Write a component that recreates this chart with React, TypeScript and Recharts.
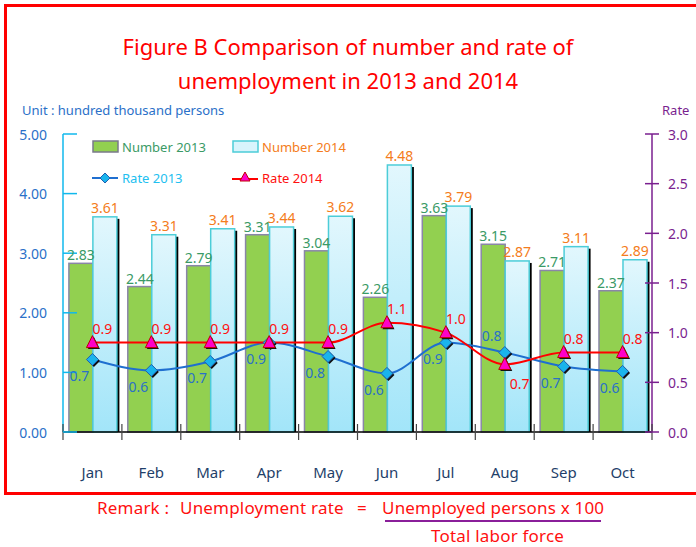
import React from 'react'
import {
  ComposedChart,
  Bar,
  Line,
  XAxis,
  YAxis,
  LabelList,
} from 'recharts'

const MONTHS = ['Jan', 'Feb', 'Mar', 'Apr', 'May', 'Jun', 'Jul', 'Aug', 'Sep', 'Oct']
const NUMBER_2013 = [2.83, 2.44, 2.79, 3.31, 3.04, 2.26, 3.63, 3.15, 2.71, 2.37]
const NUMBER_2014 = [3.61, 3.31, 3.41, 3.44, 3.62, 4.48, 3.79, 2.87, 3.11, 2.89]
const RATE_2013 = [0.73, 0.62, 0.71, 0.9, 0.76, 0.59, 0.9, 0.8, 0.66, 0.61]
const RATE_2014 = [0.9, 0.9, 0.9, 0.9, 0.9, 1.1, 1.0, 0.68, 0.8, 0.8]
const LEFT_TICKS = [0, 1, 2, 3, 4, 5]
const RIGHT_TICKS = [0, 0.5, 1, 1.5, 2, 2.5, 3]

const FONT = '"Noto Sans", "Open Sans", sans-serif'
const GREEN_TEXT = '#3a9a66'
const ORANGE = '#f47c20'
const BLUE_LINE = '#1f6fd0'
const BLUE_TEXT = '#2a70c8'
const PURPLE = '#7a1f8f'
const BAND = 589 / 10

const data = MONTHS.map((m, i) => ({
  month: m,
  n2013: NUMBER_2013[i],
  n2014: NUMBER_2014[i],
  r2013: RATE_2013[i],
  r2014: RATE_2014[i],
}))

function Bar2013(props: any) {
  const { x, y, width, height } = props
  return <rect x={x} y={y} width={width} height={height} fill="#92d050" stroke="#8a86a8" strokeWidth={1.5} />
}

function Bar2014(props: any) {
  const { x, y, width, height } = props
  return (
    <g>
      <rect x={x + width} y={y + 2} width={2.5} height={height - 2} fill="#000" />
      <rect x={x} y={y} width={width} height={height} fill="url(#g2014)" stroke="#4ccdd8" strokeWidth={1.5} />
    </g>
  )
}

function Diamond(props: any) {
  const { cx, cy, index } = props
  const d = (ox: number, oy: number) =>
    `M${cx + ox},${cy - 6 + oy} L${cx + 6 + ox},${cy + oy} L${cx + ox},${cy + 6 + oy} L${cx - 6 + ox},${cy + oy} Z`
  return (
    <g key={`d${index}`}>
      <path d={d(1.5, 1.5)} fill="#111" />
      <path d={d(0, 0)} fill="#1ab4ec" stroke="#1f5fb0" strokeWidth={1} />
    </g>
  )
}

function Triangle(props: any) {
  const { cx, cy, index } = props
  const t = (ox: number, oy: number) =>
    `M${cx + ox},${cy - 7 + oy} L${cx + 6 + ox},${cy + 5 + oy} L${cx - 6 + ox},${cy + 5 + oy} Z`
  return (
    <g key={`t${index}`}>
      <path d={t(1.5, 1.5)} fill="#111" />
      <path d={t(0, 0)} fill="#ff00c8" stroke="#c00000" strokeWidth={1} />
    </g>
  )
}

function Rate2013Label(props: any) {
  const { x, y, value, index } = props
  const above = index === 7
  return (
    <text x={x - 13} y={above ? y - 17 : y + 16} fill={BLUE_TEXT} fontSize={14} fontFamily={FONT}
      textAnchor="middle" dominantBaseline="central">
      {Number(value).toFixed(1)}
    </text>
  )
}

function Rate2014Label(props: any) {
  const { x, y, value, index } = props
  const below = index === 7
  return (
    <text x={x + (below ? 15 : 10)} y={below ? y + 19 : y - 14} fill="#ff1010" fontSize={14} fontFamily={FONT}
      textAnchor="middle" dominantBaseline="central">
      {Number(value).toFixed(1)}
    </text>
  )
}

function MonthTick(props: any) {
  const { x, y, payload, index } = props
  return (
    <g>
      <line x1={x - BAND / 2} x2={x - BAND / 2} y1={y - 8} y2={y + 8} stroke="#444" strokeWidth={1.2} />
      {index === MONTHS.length - 1 && (
        <line x1={x + BAND / 2} x2={x + BAND / 2} y1={y - 8} y2={y + 8} stroke="#444" strokeWidth={1.2} />
      )}
      <text x={x} y={y + 40} fill="#1f3f6a" fontSize={15} fontFamily={FONT} textAnchor="middle" dominantBaseline="central">
        {payload.value}
      </text>
    </g>
  )
}

function LeftTick(props: any) {
  const { x, y, payload } = props
  return (
    <g>
      <line x1={x + 9} x2={x + 23} y1={y} y2={y} stroke="#10b8ec" strokeWidth={1.5} />
      <text x={x - 7} y={y} fill={BLUE_TEXT} fontSize={14} fontFamily={FONT} textAnchor="end" dominantBaseline="central">
        {Number(payload.value).toFixed(2)}
      </text>
    </g>
  )
}

function RightTick(props: any) {
  const { x, y, payload } = props
  return (
    <g>
      <line x1={x - 23} x2={x - 9} y1={y} y2={y} stroke={PURPLE} strokeWidth={1.5} />
      <text x={x} y={y} fill={PURPLE} fontSize={14} fontFamily={FONT} textAnchor="start" dominantBaseline="central">
        {Number(payload.value).toFixed(1)}
      </text>
    </g>
  )
}

function LegendBox() {
  const item = (left: number, top: number, swatch: React.ReactNode, label: string, color: string) => (
    <div style={{ position: 'absolute', left, top, display: 'flex', alignItems: 'center', height: 16 }}>
      <svg width={27} height={16} style={{ marginRight: 3 }}>{swatch}</svg>
      <span style={{ color, fontSize: 13, fontFamily: FONT, whiteSpace: 'nowrap' }}>{label}</span>
    </div>
  )
  return (
    <>
      {item(92, 139, <rect x={1} y={2} width={25} height={11} fill="#92d050" stroke="#7a7a8a" strokeWidth={1.5} />, 'Number 2013', GREEN_TEXT)}
      {item(232, 139, <rect x={1} y={2} width={25} height={11} fill="#d8f4fc" stroke="#4ccdd8" strokeWidth={1.5} />, 'Number 2014', ORANGE)}
      {item(92, 170,
        <g>
          <line x1={0} x2={26} y1={8} y2={8} stroke={BLUE_LINE} strokeWidth={2} />
          <path d="M13,3 L18,8 L13,13 L8,8 Z" fill="#1ab4ec" stroke="#1f5fb0" />
        </g>, 'Rate 2013', '#22c0f0')}
      {item(232, 170,
        <g>
          <line x1={0} x2={26} y1={9} y2={9} stroke="#ff0000" strokeWidth={2} />
          <path d="M13,2 L18,11 L8,11 Z" fill="#ff00c8" stroke="#c00000" />
        </g>, 'Rate 2014', '#ff1010')}
    </>
  )
}

export default function App() {
  return (
    <div style={{ position: 'absolute', left: 0, top: 0, width: 696, height: 547, overflow: 'hidden', background: '#fff', fontFamily: FONT }}>
      <div style={{ position: 'absolute', left: 4, top: 4, width: 720, height: 491, border: '3px solid #ff0000', boxSizing: 'border-box' }} />
      <div style={{ position: 'absolute', left: 0, top: 29, width: 696, textAlign: 'center', color: '#ff0000', fontSize: 22, lineHeight: '34px' }}>
        Figure B Comparison of number and rate of
        <br />
        unemployment in 2013 and 2014
      </div>
      <div style={{ position: 'absolute', left: 22, top: 101, color: BLUE_TEXT, fontSize: 13 }}>Unit : hundred thousand persons</div>
      <div style={{ position: 'absolute', left: 662, top: 101, color: PURPLE, fontSize: 13 }}>Rate</div>

      <div style={{ position: 'absolute', left: 0, top: 0 }}>
        <ComposedChart width={696} height={547} data={data} barCategoryGap="10%" barGap={0}
          margin={{ top: 134, right: 4, bottom: 55, left: 20 }}>
          <defs>
            <linearGradient id="g2014" x1="0" y1="0" x2="0" y2="1">
              <stop offset="0%" stopColor="#e2f7fd" />
              <stop offset="100%" stopColor="#a2e5f9" />
            </linearGradient>
          </defs>
          <XAxis dataKey="month" height={60} tickSize={0} tickMargin={0} tick={<MonthTick />}
            axisLine={{ stroke: '#000', strokeWidth: 1.5 }} interval={0} />
          <YAxis yAxisId="num" width={43} domain={[0, 5]} ticks={LEFT_TICKS} tickSize={0} tickMargin={9}
            tick={<LeftTick />} axisLine={{ stroke: '#10b8ec', strokeWidth: 1.5 }} interval={0} />
          <YAxis yAxisId="rate" orientation="right" width={40} domain={[0, 3]} ticks={RIGHT_TICKS} tickSize={0}
            tickMargin={16} tick={<RightTick />} axisLine={{ stroke: PURPLE, strokeWidth: 1.5 }} interval={0} />
          <Bar yAxisId="num" dataKey="n2013" shape={<Bar2013 />} isAnimationActive={false}>
            <LabelList dataKey="n2013" position="top" offset={3} fill={GREEN_TEXT} fontSize={14} fontFamily={FONT}
              formatter={(v: any) => Number(v).toFixed(2)} />
          </Bar>
          <Bar yAxisId="num" dataKey="n2014" shape={<Bar2014 />} isAnimationActive={false}>
            <LabelList dataKey="n2014" position="top" offset={4} fill={ORANGE} fontSize={14} fontFamily={FONT}
              formatter={(v: any) => Number(v).toFixed(2)} />
          </Bar>
          <Line yAxisId="rate" dataKey="r2013" type="monotone" stroke={BLUE_LINE} strokeWidth={2}
            dot={(p: any) => <Diamond {...p} />} activeDot={false} isAnimationActive={false}>
            <LabelList dataKey="r2013" content={<Rate2013Label />} />
          </Line>
          <Line yAxisId="rate" dataKey="r2014" type="monotone" stroke="#ff0000" strokeWidth={2}
            dot={(p: any) => <Triangle {...p} />} activeDot={false} isAnimationActive={false}>
            <LabelList dataKey="r2014" content={<Rate2014Label />} />
          </Line>
        </ComposedChart>
      </div>

      <LegendBox />

      <div style={{ position: 'absolute', top: 496, left: 0, width: 696, height: 51, color: '#ff1010', fontSize: 17, letterSpacing: 0.2 }}>
        <span style={{ position: 'absolute', left: 97, top: 0 }}>Remark :</span>
        <span style={{ position: 'absolute', left: 180, top: 0 }}>Unemployment rate</span>
        <span style={{ position: 'absolute', left: 357, top: 0 }}>=</span>
        <span style={{ position: 'absolute', left: 382, top: 0 }}>Unemployed persons x 100</span>
        <div style={{ position: 'absolute', left: 385, top: 24, width: 216, height: 2, background: '#8a1f9a' }} />
        <span style={{ position: 'absolute', left: 431, top: 28 }}>Total labor force</span>
      </div>
    </div>
  )
}
